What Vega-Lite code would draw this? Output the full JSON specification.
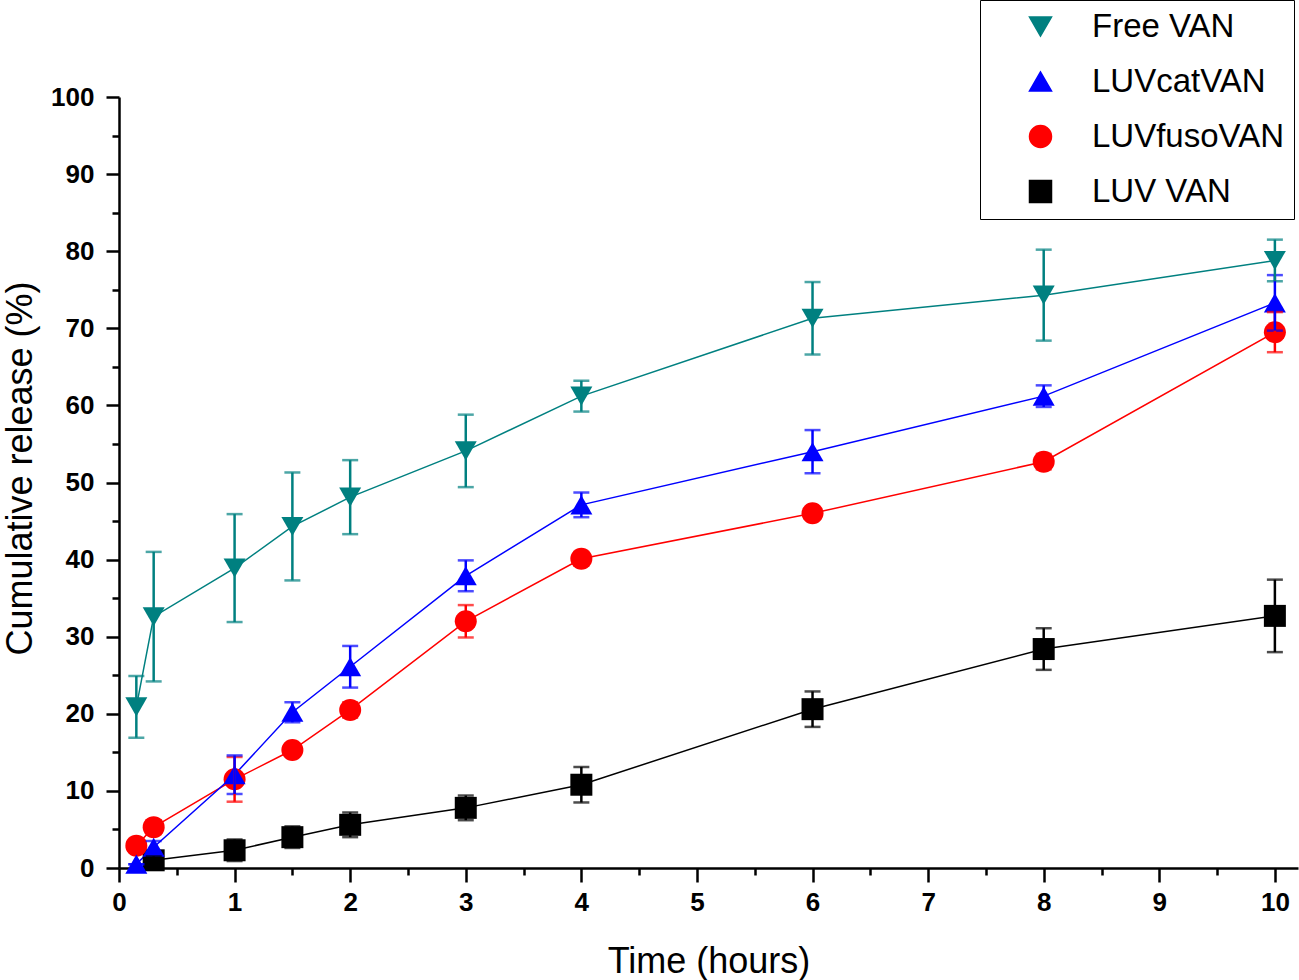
{
  "$schema": "https://vega.github.io/schema/vega-lite/v6.json",
  "width": 1179,
  "height": 771,
  "autosize": "none",
  "padding": {"left": 119, "top": 97, "right": 1, "bottom": 112},
  "background": "white",
  "config": {
    "view": {"stroke": null},
    "font": "Liberation Sans",
    "axis": {"grid": false, "domainColor": "black", "tickColor": "black", "labelColor": "black", "titleColor": "black", "domainWidth": 2.5, "tickWidth": 2.5}
  },
  "data": {
    "values": [
      {"series": "LUV VAN", "t": 0.3, "mean": 1.0, "err": 0.5},
      {"series": "LUV VAN", "t": 1, "mean": 2.3, "err": 1.4},
      {"series": "LUV VAN", "t": 1.5, "mean": 4.0, "err": 1.4},
      {"series": "LUV VAN", "t": 2, "mean": 5.6, "err": 1.6},
      {"series": "LUV VAN", "t": 3, "mean": 7.8, "err": 1.6},
      {"series": "LUV VAN", "t": 4, "mean": 10.8, "err": 2.3},
      {"series": "LUV VAN", "t": 6, "mean": 20.6, "err": 2.3},
      {"series": "LUV VAN", "t": 8, "mean": 28.4, "err": 2.7},
      {"series": "LUV VAN", "t": 10, "mean": 32.7, "err": 4.7},
      {"series": "LUVfusoVAN", "t": 0.15, "mean": 2.9, "err": 0},
      {"series": "LUVfusoVAN", "t": 0.3, "mean": 5.3, "err": 0.9},
      {"series": "LUVfusoVAN", "t": 1, "mean": 11.5, "err": 2.9},
      {"series": "LUVfusoVAN", "t": 1.5, "mean": 15.3, "err": 0.5},
      {"series": "LUVfusoVAN", "t": 2, "mean": 20.5, "err": 1.0},
      {"series": "LUVfusoVAN", "t": 3, "mean": 32.0, "err": 2.1},
      {"series": "LUVfusoVAN", "t": 4, "mean": 40.1, "err": 0.9},
      {"series": "LUVfusoVAN", "t": 6, "mean": 46.0, "err": 0.5},
      {"series": "LUVfusoVAN", "t": 8, "mean": 52.7, "err": 1.0},
      {"series": "LUVfusoVAN", "t": 10, "mean": 69.5, "err": 2.6},
      {"series": "LUVcatVAN", "t": 0.15, "mean": 0.5, "err": 0},
      {"series": "LUVcatVAN", "t": 0.3, "mean": 2.7, "err": 0.8},
      {"series": "LUVcatVAN", "t": 1, "mean": 12.1, "err": 2.5},
      {"series": "LUVcatVAN", "t": 1.5, "mean": 20.2, "err": 1.3},
      {"series": "LUVcatVAN", "t": 2, "mean": 26.1, "err": 2.7},
      {"series": "LUVcatVAN", "t": 3, "mean": 37.9, "err": 2.0},
      {"series": "LUVcatVAN", "t": 4, "mean": 47.1, "err": 1.6},
      {"series": "LUVcatVAN", "t": 6, "mean": 54.0, "err": 2.8},
      {"series": "LUVcatVAN", "t": 8, "mean": 61.2, "err": 1.4},
      {"series": "LUVcatVAN", "t": 10, "mean": 73.3, "err": 3.6},
      {"series": "Free VAN", "t": 0.15, "mean": 20.9, "err": 4.0},
      {"series": "Free VAN", "t": 0.3, "mean": 32.6, "err": 8.4},
      {"series": "Free VAN", "t": 1, "mean": 38.9, "err": 7.0},
      {"series": "Free VAN", "t": 1.5, "mean": 44.3, "err": 7.0},
      {"series": "Free VAN", "t": 2, "mean": 48.1, "err": 4.8},
      {"series": "Free VAN", "t": 3, "mean": 54.1, "err": 4.7},
      {"series": "Free VAN", "t": 4, "mean": 61.2, "err": 2.0},
      {"series": "Free VAN", "t": 6, "mean": 71.3, "err": 4.7},
      {"series": "Free VAN", "t": 8, "mean": 74.3, "err": 5.9},
      {"series": "Free VAN", "t": 10, "mean": 78.8, "err": 2.7}
    ]
  },
  "layer": [
    {
      "mark": {"type": "line", "strokeWidth": 1.5},
      "encoding": {
        "x": {
          "field": "t", "type": "quantitative",
          "scale": {"domain": [0, 10.2], "nice": false, "zero": false},
          "axis": {"orient": "bottom", "values": [0, 1, 2, 3, 4, 5, 6, 7, 8, 9, 10], "title": "Time (hours)", "titleFontSize": 36, "titleFontWeight": "normal", "titlePadding": 29, "tickSize": 14, "labelPadding": 7, "labelFontSize": 26, "labelFontWeight": "bold", "labelFlush": false, "labelOverlap": false}
        },
        "y": {
          "field": "mean", "type": "quantitative",
          "scale": {"domain": [0, 100], "nice": false},
          "axis": {"orient": "left", "values": [0, 10, 20, 30, 40, 50, 60, 70, 80, 90, 100], "title": "Cumulative release (%)", "titleFontSize": 36, "titleFontWeight": "normal", "titlePadding": 11, "titleY": 371, "tickSize": 13, "labelPadding": 12, "labelFontSize": 26, "labelFontWeight": "bold", "labelFlush": false, "labelOverlap": false}
        },
        "color": {
          "field": "series", "type": "nominal",
          "scale": {"domain": ["Free VAN", "LUVcatVAN", "LUVfusoVAN", "LUV VAN"], "range": ["#008080", "#0000ff", "#ff0000", "#000000"]},
          "legend": {
            "title": null,
            "orient": "none",
            "legendX": 861,
            "legendY": -97,
            "padding": 10,
            "rowPadding": 21,
            "labelFontSize": 33,
            "labelFont": "Liberation Sans",
            "labelColor": "black",
            "symbolOffset": 34,
            "labelOffset": 35,
            "labelLimit": 400,
            "symbolSize": 400,
            "symbolOpacity": 1,
            "strokeColor": "black",
            "fillColor": "white"
          }
        }
      }
    },
    {
      "mark": {"type": "point", "filled": true, "opacity": 1},
      "encoding": {
        "x": {"field": "t", "type": "quantitative", "axis": null},
        "y": {"field": "mean", "type": "quantitative", "axis": null},
        "color": {"field": "series", "type": "nominal"},
        "shape": {"field": "series", "type": "nominal", "scale": {"domain": ["Free VAN", "LUVcatVAN", "LUVfusoVAN", "LUV VAN"], "range": ["triangle-down", "triangle-up", "circle", "square"]}, "legend": null},
        "size": {"field": "series", "type": "nominal", "scale": {"domain": ["Free VAN", "LUVcatVAN", "LUVfusoVAN", "LUV VAN"], "range": [484, 484, 400, 256]}, "legend": null}
      }
    },
    {
      "mark": {"type": "errorbar", "ticks": {"size": 16, "thickness": 2.5}, "rule": {"strokeWidth": 2.5}},
      "encoding": {
        "x": {"field": "t", "type": "quantitative", "axis": {"orient": "bottom", "values": [0.5, 1.5, 2.5, 3.5, 4.5, 5.5, 6.5, 7.5, 8.5, 9.5], "labels": false, "domain": false, "title": null, "tickSize": 7}},
        "y": {"field": "mean", "type": "quantitative", "axis": {"orient": "left", "values": [5, 15, 25, 35, 45, 55, 65, 75, 85, 95], "labels": false, "domain": false, "title": null, "tickSize": 7}},
        "yError": {"field": "err"},
        "color": {"field": "series", "type": "nominal"}
      }
    }
  ],
  "resolve": {"axis": {"x": "independent", "y": "independent"}}
}
